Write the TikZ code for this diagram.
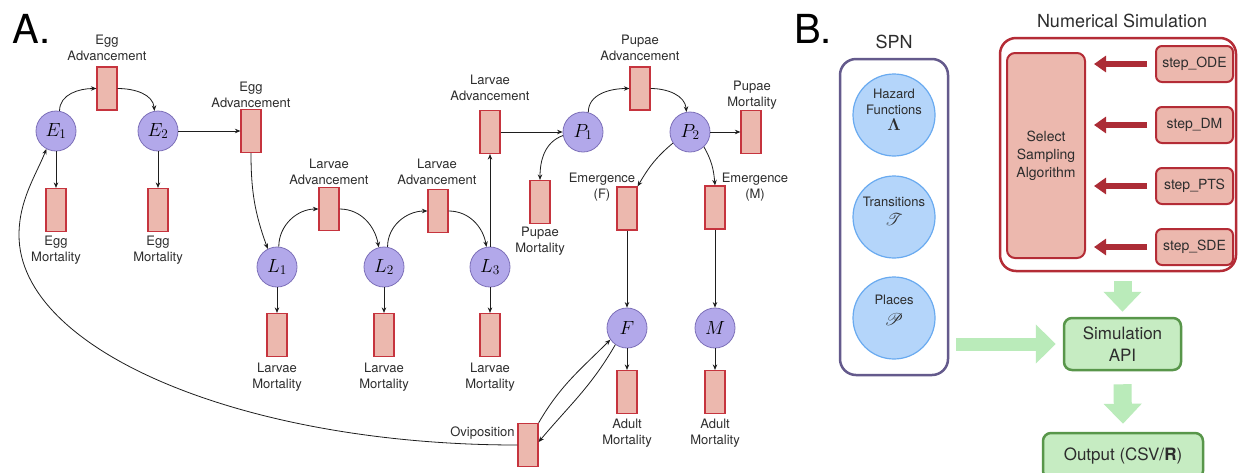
\RequirePackage{fix-cm}
\documentclass[tikz,border=0pt]{standalone}
\usepackage[no-math]{fontspec}
\setmainfont{TeX Gyre Heros}
\usepackage{mathrsfs}
\DeclareFontFamily{U}{rsfs}{\skewchar\font127 }
\DeclareFontShape{U}{rsfs}{m}{n}{<-> rsfs10}{}
\usetikzlibrary{arrows.meta,calc}
\definecolor{placeF}{RGB}{178,168,234}
\definecolor{placeB}{RGB}{125,112,185}
\definecolor{transF}{RGB}{236,184,174}
\definecolor{transB}{RGB}{198,52,62}
\definecolor{arcC}{RGB}{30,30,30}
\definecolor{textC}{RGB}{45,45,45}
\definecolor{spnF}{RGB}{180,213,250}
\definecolor{spnB}{RGB}{105,170,240}
\definecolor{spnBox}{RGB}{100,90,140}
\definecolor{numB}{RGB}{180,44,54}
\definecolor{redA}{RGB}{172,44,54}
\definecolor{greenA}{RGB}{186,235,186}
\definecolor{apiF}{RGB}{198,236,194}
\definecolor{apiB}{RGB}{88,150,74}
\newcommand{\bigmath}[1]{{\fontsize{17}{16}\selectfont$#1$}}
\begin{document}
\begin{tikzpicture}[x=1pt,y=1pt,
  place/.style={circle, draw=placeB, fill=placeF, line width=0.8pt, minimum size=40pt, inner sep=0pt, font=\fontsize{19}{20}\selectfont},
  trans/.style={rectangle, draw=transB, fill=transF, line width=1.2pt, minimum width=20pt, minimum height=43pt, inner sep=0pt},
  lbl/.style={align=center, inner sep=0pt, text=textC, font=\fontsize{13}{15.5}\selectfont},
  arc/.style={-{Stealth[length=5.5pt,width=4.5pt]}, line width=0.8pt, draw=arcC},
  big/.style={inner sep=0pt, text=black, font=\fontsize{40}{44}\selectfont},
  ttl/.style={inner sep=0pt, text=textC, font=\fontsize{18}{21}\selectfont},
  spnc/.style={circle, draw=spnB, fill=spnF, line width=1.2pt, minimum size=82pt, inner sep=0pt},
  spnt/.style={align=center, inner sep=0pt, text=textC, font=\fontsize{13}{16}\selectfont},
  redbox/.style={draw=numB, fill=transF, line width=2pt, rounded corners=6pt, inner sep=0pt, text=textC, font=\fontsize{14}{18}\selectfont, align=center},
  redarr/.style={draw=redA, line width=6pt, -{Triangle[length=12pt,width=16pt]}},
  apibox/.style={draw=apiB, fill=apiF, line width=2.5pt, rounded corners=8pt, inner sep=0pt, text=textC, font=\fontsize{17}{22}\selectfont, align=center},
  garrV/.style={draw=greenA, line width=18pt, -{Triangle[length=20pt,width=37pt]}},
  garrH/.style={draw=greenA, line width=13pt, -{Triangle[length=20pt,width=38pt]}}
]
\useasboundingbox (0,0) rectangle (1238,-472);
\fill[white] (0,0) rectangle (1238,-472);

% ---------------- Part A ----------------
\node[big, anchor=base west] (labA) at (12,-43) {A.};

\node[place] (E1) at (56,-131) {$E_1$};
\node[place] (E2) at (158,-131) {$E_2$};
\node[place] (L1) at (277,-267) {$L_1$};
\node[place] (L2) at (384,-267) {$L_2$};
\node[place] (L3) at (490,-267) {$L_3$};
\node[place] (P1) at (583,-132) {$P_1$};
\node[place] (P2) at (690,-132) {$P_2$};
\node[place] (F) at (627,-328) {$F$};
\node[place] (M) at (715,-328) {$M$};

\node[trans] (ea1) at (107,-88.5) {};
\node[trans] (em1) at (56,-210) {};
\node[trans] (em2) at (158,-210) {};
\node[trans] (ea2) at (251,-131) {};
\node[trans] (la1) at (329,-209) {};
\node[trans] (la2) at (438,-211) {};
\node[trans] (la3) at (490,-132) {};
\node[trans] (lm1) at (277,-335) {};
\node[trans] (lm2) at (384,-335) {};
\node[trans] (lm3) at (490,-335) {};
\node[trans] (pm1) at (540,-202) {};
\node[trans] (pa) at (640,-88.5) {};
\node[trans] (pm2) at (751,-132) {};
\node[trans] (emF) at (627,-208.5) {};
\node[trans] (emM) at (715,-207.5) {};
\node[trans] (am1) at (627,-392) {};
\node[trans] (am2) at (715,-392) {};
\node[trans] (ovi) at (528,-445) {};

\node[lbl] (ea1l) at (107,-48) {Egg\\Advancement};
\node[lbl] (em1l) at (56,-250) {Egg\\Mortality};
\node[lbl] (em2l) at (158,-250) {Egg\\Mortality};
\node[lbl] (ea2l) at (251,-95) {Egg\\Advancement};
\node[lbl] (la1l) at (329,-172) {Larvae\\Advancement};
\node[lbl] (la2l) at (437,-172) {Larvae\\Advancement};
\node[lbl] (la3l) at (490,-88) {Larvae\\Advancement};
\node[lbl] (lm1l) at (277,-377) {Larvae\\Mortality};
\node[lbl] (lm2l) at (384,-377) {Larvae\\Mortality};
\node[lbl] (lm3l) at (490,-377) {Larvae\\Mortality};
\node[lbl] (pal) at (640,-48) {Pupae\\Advancement};
\node[lbl] (pm2l) at (752,-95) {Pupae\\Mortality};
\node[lbl] (pm1l) at (540,-241) {Pupae\\Mortality};
\node[lbl] (emFl) at (602,-187) {Emergence\\(F)};
\node[lbl] (emMl) at (755,-187) {Emergence\\(M)};
\node[lbl] (am1l) at (627,-433) {Adult\\Mortality};
\node[lbl] (am2l) at (715,-433) {Adult\\Mortality};
\node[lbl] (ovil) at (482.5,-433) {Oviposition};

\draw[arc] (E1.80) to[out=90,in=180] (ea1.west);
\draw[arc] (ea1.east) to[out=0,in=95] (E2.100);
\draw[arc] (E1) -- (em1);
\draw[arc] (E2) -- (em2);
\draw[arc] (E2) -- (ea2);
\draw[arc] (ea2.south) to[out=-90,in=110] (L1.117);
\draw[arc] (L1.85) to[out=90,in=180] (la1.west);
\draw[arc] (la1.east) to[out=0,in=100] (L2.105);
\draw[arc] (L2.80) to[out=90,in=180] (la2.west);
\draw[arc] (la2.east) to[out=0,in=100] (L3.100);
\draw[arc] (L1) -- (lm1);
\draw[arc] (L2) -- (lm2);
\draw[arc] (L3) -- (lm3);
\draw[arc] (L3) -- (la3);
\draw[arc] (la3) -- (P1);
\draw[arc] (P1.190) to[out=200,in=90] (pm1.north);
\draw[arc] (P1.75) to[out=90,in=180] (pa.west);
\draw[arc] (pa.east) to[out=0,in=95] (P2.100);
\draw[arc] (P2) -- (pm2);
\draw[arc] (P2.213) to[out=220,in=60] (emF.north east);
\draw[arc] (P2.-47) to[out=-60,in=95] (emM.north);
\draw[arc] (emF) -- (F);
\draw[arc] (emM) -- (M);
\draw[arc] (F) -- (am1);
\draw[arc] (M) -- (am2);
\draw[arc] (ovi.north east) to[out=60,in=225] (F.215);
\draw[arc] (F.235) to[out=240,in=50] ([yshift=3pt]ovi.east);
\draw[arc] (ovi.west) .. controls (244,-445) and (19,-351) .. (19,-235)
   .. controls (19,-200) and (36,-175) .. (E1.242);

% ---------------- Part B ----------------
\node[big, anchor=base west] (labB) at (794,-43) {B.};
\node[ttl, anchor=base] (spnT) at (894,-48) {SPN};
\node[ttl, anchor=base] (numT) at (1122,-27) {Numerical Simulation};

\node[draw=spnBox, line width=2.5pt, rounded corners=16pt, minimum width=108pt, minimum height=316pt, inner sep=0pt] (spn) at (894,-217) {};
\node[spnc] (hz) at (894,-115) {};
\node[spnc] (tr) at (894,-217) {};
\node[spnc] (pl) at (894,-318) {};
\node[spnt] (hzT) at (894,-110) {Hazard\\Functions\\\bigmath{\mathbf{\Lambda}}};
\node[spnt] (trT) at (894,-211) {Transitions\\[3pt]\bigmath{\mathscr{T}}};
\node[spnt] (plT) at (894,-310.5) {Places\\[5pt]\bigmath{\mathscr{P}}};

\node[draw=numB, line width=2.5pt, rounded corners=16pt, minimum width=236pt, minimum height=233pt, inner sep=0pt] (ns) at (1118,-154.5) {};
\node[redbox, minimum width=78pt, minimum height=205pt, rounded corners=8pt] (sel) at (1046,-155.5) {Select\\Sampling\\Algorithm};
\node[redbox, minimum width=77pt, minimum height=36pt] (s1) at (1194.5,-64) {step\_ODE};
\node[redbox, minimum width=77pt, minimum height=36pt] (s2) at (1194.5,-125) {step\_DM};
\node[redbox, minimum width=77pt, minimum height=36pt] (s3) at (1194.5,-186) {step\_PTS};
\node[redbox, minimum width=77pt, minimum height=36pt] (s4) at (1194.5,-247) {step\_SDE};

\draw[redarr] ([xshift=-8pt]s1.west) -- ($(sel.east |- s1.west)+(8,0)$);
\draw[redarr] ([xshift=-8pt]s2.west) -- ($(sel.east |- s2.west)+(8,0)$);
\draw[redarr] ([xshift=-8pt]s3.west) -- ($(sel.east |- s3.west)+(8,0)$);
\draw[redarr] ([xshift=-8pt]s4.west) -- ($(sel.east |- s4.west)+(8,0)$);

\node[apibox, minimum width=117pt, minimum height=52pt] (api) at (1122.5,-344) {Simulation\\API};
\node[apibox, minimum width=160pt, minimum height=46pt] (out) at (1123,-456) {Output (CSV/\textbf{R})};

\draw[garrV] ($(api.north |- ns.south)+(0,-9)$) -- ($(api.north)+(0,5)$);
\draw[garrH] ($(spn.east |- api.west)+(7,0)$) -- ($(api.west)+(-7,0)$);
\draw[garrV] ($(api.south)+(0,-13)$) -- ($(out.north)+(0,8)$);
\end{tikzpicture}
\end{document}
